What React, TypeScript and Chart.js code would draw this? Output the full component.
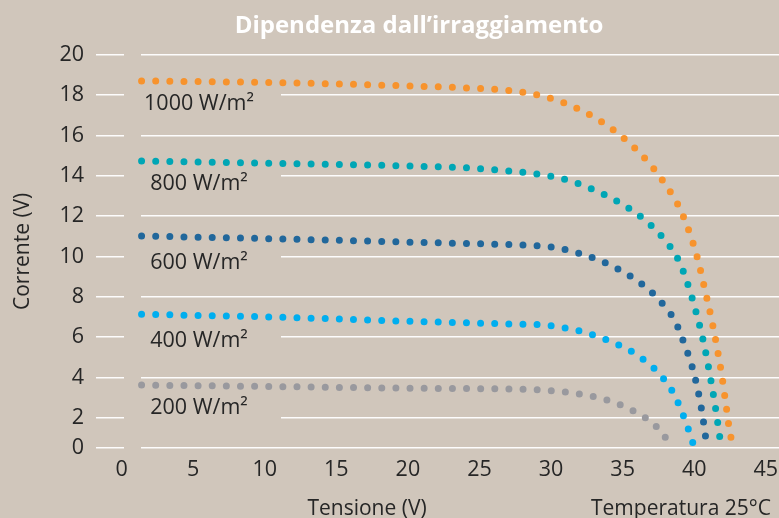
import { useEffect, useRef } from 'react';
import { Chart, registerables } from 'chart.js';

Chart.register(...registerables);

// ---------- data ----------
const chartTitle = 'Dipendenza dall’irraggiamento';
const xTitle = 'Tensione (V)';
const yTitle = 'Corrente (V)';
const noteText = 'Temperatura 25°C';

const xTicks = [0, 5, 10, 15, 20, 25, 30, 35, 40, 45];
const yTicks = [0, 2, 4, 6, 8, 10, 12, 14, 16, 18, 20];

const seriesLabels = ['1000 W/m²', '800 W/m²', '600 W/m²', '400 W/m²', '200 W/m²'];

const voltage1000 = [1.4, 11.26, 20.15, 24.11, 26.62, 28.6, 30.49, 32.3, 34.0, 35.54, 36.91, 38.1, 38.96, 39.71, 40.28, 40.75, 41.19, 41.57, 41.92, 42.2, 42.48, 42.62];
const current1000 = [18.7, 18.61, 18.45, 18.35, 18.25, 18.07, 17.72, 17.17, 16.45, 15.57, 14.57, 13.44, 12.43, 11.1, 9.77, 8.33, 6.95, 5.56, 4.13, 2.73, 1.31, 0.85];

const voltage800 = [1.4, 11.26, 20.15, 24.34, 27.34, 29.32, 30.79, 32.7, 34.56, 36.26, 37.77, 38.92, 39.59, 40.17, 40.66, 41.05, 41.4, 41.71, 41.82];
const current800 = [14.73, 14.6, 14.48, 14.38, 14.22, 14.05, 13.85, 13.39, 12.76, 11.97, 10.96, 9.79, 8.53, 7.13, 5.72, 4.3, 2.87, 1.41, 0.85];

const voltage600 = [1.4, 11.42, 20.55, 25.62, 29.23, 30.19, 31.21, 32.21, 33.19, 34.14, 35.05, 35.93, 36.75, 37.49, 38.15, 38.64, 39.03, 39.38, 39.71, 39.99, 40.22, 40.42, 40.59, 40.73, 40.84];
const current600 = [11.01, 10.86, 10.7, 10.61, 10.52, 10.45, 10.3, 10.1, 9.86, 9.57, 9.23, 8.84, 8.4, 7.89, 7.33, 6.83, 6.19, 5.52, 4.86, 4.17, 3.48, 2.78, 2.07, 1.38, 0.78];

const voltage400 = [1.4, 11.23, 20.15, 24.11, 28.06, 29.53, 30.53, 31.51, 32.49, 33.44, 34.35, 35.28, 36.12, 36.91, 37.63, 38.24, 38.66, 39.01, 39.36, 39.66, 39.92];
const current400 = [7.13, 6.98, 6.78, 6.71, 6.63, 6.6, 6.5, 6.39, 6.2, 5.99, 5.72, 5.42, 5.06, 4.63, 4.13, 3.57, 3.08, 2.5, 1.89, 1.28, 0.71];

const voltage200 = [1.4, 11.42, 20.5, 25.53, 29.09, 30.02, 30.95, 31.93, 32.86, 33.79, 34.7, 35.58, 36.44, 37.21, 37.84, 38.26];
const current200 = [3.62, 3.54, 3.46, 3.44, 3.39, 3.34, 3.28, 3.18, 3.06, 2.9, 2.68, 2.4, 2.07, 1.66, 1.16, 0.73];

const voltages = [voltage1000, voltage800, voltage600, voltage400, voltage200];
const currents = [current1000, current800, current600, current400, current200];

// ---------- style / layout ----------
const seriesColors = ['#f7932d', '#00a6b5', '#21679b', '#00aeef', '#99999e'];
const BG = '#d0c6bb';
const TEXT = '#262626';
const GRID = 'rgba(255,255,255,0.95)';
const FONT = '"Open Sans", "Noto Sans", sans-serif';
const W = 779;
const H = 518;
const X_MIN = 1.36;
const X_MAX = 45.92;
const Y_MIN = 0.5;
const Y_MAX = 20;
const LABEL_CX = 199;
const LABEL_CY = [103.5, 184, 263, 341, 408];
const BOX_LEFT = 125;
const BOX_RIGHT = 281;

const overlayPlugin = {
  id: 'overlay',
  beforeDraw(chart: any) {
    const ctx = chart.ctx;
    ctx.save();
    ctx.fillStyle = BG;
    ctx.fillRect(0, 0, chart.width, chart.height);
    ctx.restore();
  },
  afterDatasetsDraw(chart: any) {
    const ctx = chart.ctx;
    ctx.save();
    // chart title
    ctx.font = `bold 24px ${FONT}`;
    ctx.textAlign = 'center';
    ctx.textBaseline = 'alphabetic';
    ctx.fillStyle = '#ffffff';
    ctx.fillText(chartTitle, 419, 33.3);
    // series labels
    ctx.font = `21.5px ${FONT}`;
    ctx.textBaseline = 'middle';
    seriesLabels.forEach((t, i) => {
      const cy = LABEL_CY[i];
      ctx.fillStyle = BG;
      ctx.fillRect(BOX_LEFT, cy - 12, BOX_RIGHT - BOX_LEFT, 24);
      ctx.fillStyle = TEXT;
      ctx.fillText(t, LABEL_CX, cy);
    });
    // bottom texts
    ctx.font = `21px ${FONT}`;
    ctx.textBaseline = 'alphabetic';
    ctx.fillStyle = TEXT;
    ctx.fillText(xTitle, 367, 514.5);
    ctx.fillText(noteText, 681, 514.5);
    ctx.restore();
  },
};

export default function App() {
  const ref = useRef<HTMLCanvasElement | null>(null);

  useEffect(() => {
    const canvas = ref.current;
    if (!canvas) return;
    const chart = new Chart(canvas, {
      type: 'line',
      data: {
        datasets: seriesLabels.map((label, s) => ({
          label,
          data: voltages[s].map((v, i) => ({ x: v, y: currents[s][i] })),
          borderColor: seriesColors[s],
          backgroundColor: seriesColors[s],
          borderWidth: 7,
          borderDash: [0, 14.13],
          borderCapStyle: 'round',
          pointRadius: 0,
          pointHoverRadius: 0,
          fill: false,
          cubicInterpolationMode: 'monotone',
          clip: false,
        })),
      },
      options: {
        responsive: false,
        animation: false,
        devicePixelRatio: 1,
        layout: { padding: { top: 54.7, left: 0, right: 0, bottom: 0 } },
        events: [],
        plugins: {
          legend: { display: false },
          tooltip: { enabled: false },
          title: { display: false },
        },
        scales: {
          x: {
            type: 'linear',
            min: X_MIN,
            max: X_MAX,
            afterBuildTicks: (s: any) => {
              s.ticks = xTicks.map((v) => ({ value: v }));
            },
            afterFit: (s: any) => {
              s.height = 70;
              s.paddingLeft = 0;
              s.paddingRight = 0;
            },
            grid: { display: false, drawTicks: false },
            border: { display: false },
            ticks: {
              autoSkip: false,
              maxRotation: 0,
              padding: 9,
              color: TEXT,
              font: { family: FONT, size: 21.5 },
              callback: (v: any) => String(v),
            },
          },
          y: {
            type: 'linear',
            min: Y_MIN,
            max: Y_MAX,
            afterBuildTicks: (s: any) => {
              s.ticks = yTicks.map((v) => ({ value: Math.max(v, Y_MIN) }));
            },
            afterFit: (s: any) => {
              s.width = 141;
              s.paddingTop = 0;
              s.paddingBottom = 0;
            },
            grid: {
              color: GRID,
              lineWidth: 1.5,
              drawTicks: true,
              tickLength: 45,
              tickBorderDash: [28, 17],
              tickColor: GRID,
              tickWidth: 1.5,
            },
            border: { display: false },
            ticks: {
              padding: 12,
              color: TEXT,
              font: { family: FONT, size: 21.5 },
              callback: (_v: any, i: number) => String(yTicks[i]),
            },
            title: {
              display: true,
              text: yTitle,
              color: TEXT,
              font: { family: FONT, size: 21 },
              padding: { top: 10, bottom: 0 },
            },
          },
        },
      },
      plugins: [overlayPlugin],
    } as any);
    return () => chart.destroy();
  }, []);

  return (
    <div style={{ position: 'fixed', left: 0, top: 0, width: W, height: H, background: BG }}>
      <canvas ref={ref} width={W} height={H} style={{ display: 'block', width: W, height: H }} />
    </div>
  );
}
